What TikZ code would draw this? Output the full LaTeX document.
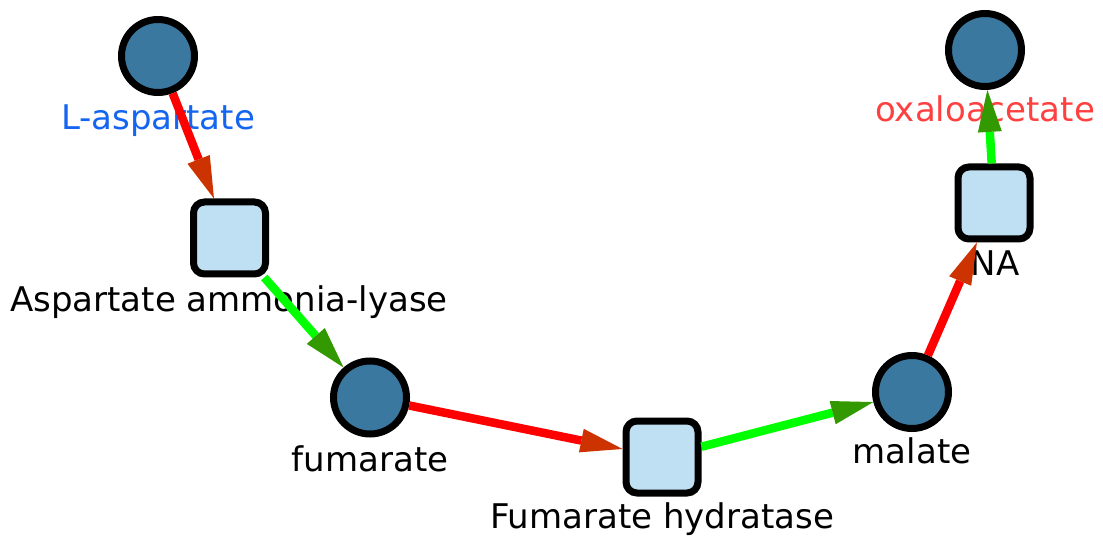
\documentclass[tikz,border=0pt]{standalone}
\usepackage{fontspec}
\setmainfont{DejaVu Sans}
\usetikzlibrary{arrows.meta}
\definecolor{metab}{RGB}{59,120,160}
\definecolor{enz}{RGB}{191,223,242}
\definecolor{headred}{RGB}{204,51,0}
\definecolor{headgreen}{RGB}{51,153,0}
\definecolor{lineredc}{RGB}{255,0,0}
\definecolor{linegreenc}{RGB}{0,255,0}
\definecolor{bluetext}{RGB}{20,102,240}
\definecolor{redtext}{RGB}{255,64,64}
\tikzset{
  metabolite/.style={circle, draw=black, line width=7pt, fill=metab, minimum size=73pt, inner sep=0pt, outer sep=3.5pt},
  enzyme/.style={rectangle, rounded corners=11pt, draw=black, line width=7pt, fill=enz, minimum size=72pt, inner sep=0pt, outer sep=3.5pt},
  lbl/.style={anchor=base, inner sep=0pt, font=\fontsize{34}{40}\selectfont},
  rededge/.style={draw=lineredc, line width=8.5pt, -{Triangle[length=42pt,width=24pt,line width=0pt,color=headred]}},
  greenedge/.style={draw=linegreenc, line width=8.5pt, -{Triangle[length=42pt,width=24pt,line width=0pt,color=headgreen]}}
}
\begin{document}
\begin{tikzpicture}[x=1pt,y=-1pt]
\useasboundingbox (0,0) rectangle (1103,545);
% labels
\node[lbl, text=bluetext] (tasp) at (158,130) {L-aspartate};
\node[lbl] (taal) at (229,312) {Aspartate ammonia-lyase};
\node[lbl] (tfum) at (370,471) {fumarate};
\node[lbl] (tfh) at (662,528) {Fumarate hydratase};
\node[lbl] (tmal) at (912,463) {malate};
\node[lbl] (tna) at (995,276) {NA};
\node[lbl, text=redtext] (toxa) at (985,122) {oxaloacetate};
% nodes
\node[metabolite] (asp) at (158,56) {};
\node[enzyme] (aal) at (229.5,238) {};
\node[metabolite] (fum) at (370,397.5) {};
\node[enzyme] (fh) at (662,457) {};
\node[metabolite] (mal) at (912,392) {};
\node[enzyme] (na) at (994,203) {};
\node[metabolite] (oxa) at (985,50) {};
% edges
\draw[rededge] (asp) -- (aal);
\draw[greenedge] (aal) -- (fum);
\draw[rededge] (fum) -- (fh);
\draw[greenedge] (fh) -- (mal);
\draw[rededge] (mal) -- (na);
\draw[greenedge] (na) -- (oxa);
\end{tikzpicture}
\end{document}
